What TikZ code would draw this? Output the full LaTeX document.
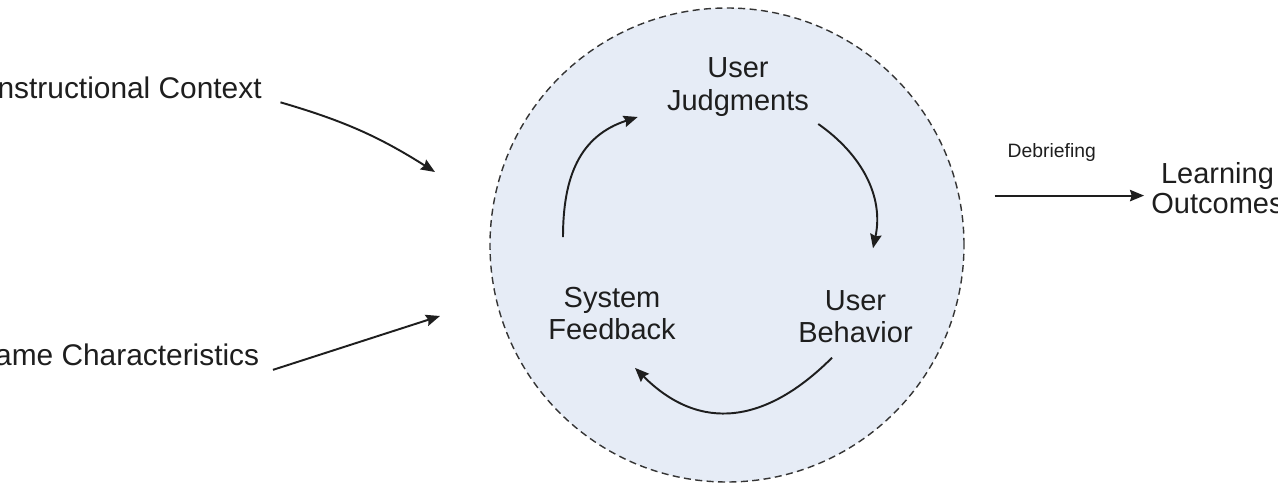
\documentclass[tikz,border=0pt]{standalone}
\usepackage{fontspec}
\setmainfont{Liberation Sans}
\usetikzlibrary{positioning,arrows.meta}
\usepackage{xcolor}
\definecolor{loopfill}{RGB}{230,236,246}
\definecolor{ink}{RGB}{30,30,30}

\begin{document}
\begin{tikzpicture}[
    txt/.style={font=\fontsize{16.5}{18.5}\selectfont,text=ink,align=center,inner sep=2pt},
    lbl/.style={font=\fontsize{11}{13}\selectfont,text=ink,inner sep=2pt},
    lnk/.style={->,>={Stealth[length=8pt,width=6.5pt,inset=1pt]},line width=1.1pt,draw=ink},
    loopbg/.style={circle,draw=ink!90,line width=0.8pt,dash pattern=on 4pt off 2.5pt,fill=loopfill,minimum size=9.48cm,inner sep=0pt},
]
\useasboundingbox (0,0) rectangle (25.56,9.72);
\node[loopbg] (loop) at (14.54,4.82) {};
\node[txt] (uj) at (14.76,7.98) {User\\Judgments};
\node[txt] (sf) at (12.24,3.45) {System\\Feedback};
\node[txt] (ub) at (17.11,3.39) {User\\Behavior};
\node[txt,font=\fontsize{17}{19}\selectfont,anchor=east] (ic) at (5.31,7.97) {Instructional Context};
\node[txt,font=\fontsize{17}{19}\selectfont,anchor=east] (gc) at (5.26,2.62) {Game Characteristics};
\node[txt,font=\fontsize{16.5}{17}\selectfont] (lo) at (24.35,5.96) {Learning\\Outcomes};
\coordinate (icin) at (8.70,6.28);
\coordinate (gcin) at (8.80,3.40);
\draw[lnk] ([xshift=0.3cm]ic.south east) to[bend left=8] (icin);
\draw[lnk] ([xshift=0.2cm]gc.south east) -- (gcin);
\draw[lnk,shorten <=0.7cm] (loop.12.7) -- ([xshift=-2pt]loop.12.7 -| lo.west)
    node[lbl,midway,above=0.6cm] (deb) {Debriefing};
\draw[lnk] ([shift={(-0.98,0.92)}]sf.north) to[out=90,in=198,looseness=1.1] ([shift={(-0.51,-0.6)}]uj.west);
\draw[lnk] ([shift={(0.11,-0.74)}]uj.east) to[out=-35,in=78] ([shift={(0.35,0.76)}]ub.north);
\draw[lnk] ([shift={(-0.47,-0.22)}]ub.south) to[out=-135,in=-45,looseness=1.2] ([shift={(0.46,-0.48)}]sf.south);
\end{tikzpicture}
\end{document}
